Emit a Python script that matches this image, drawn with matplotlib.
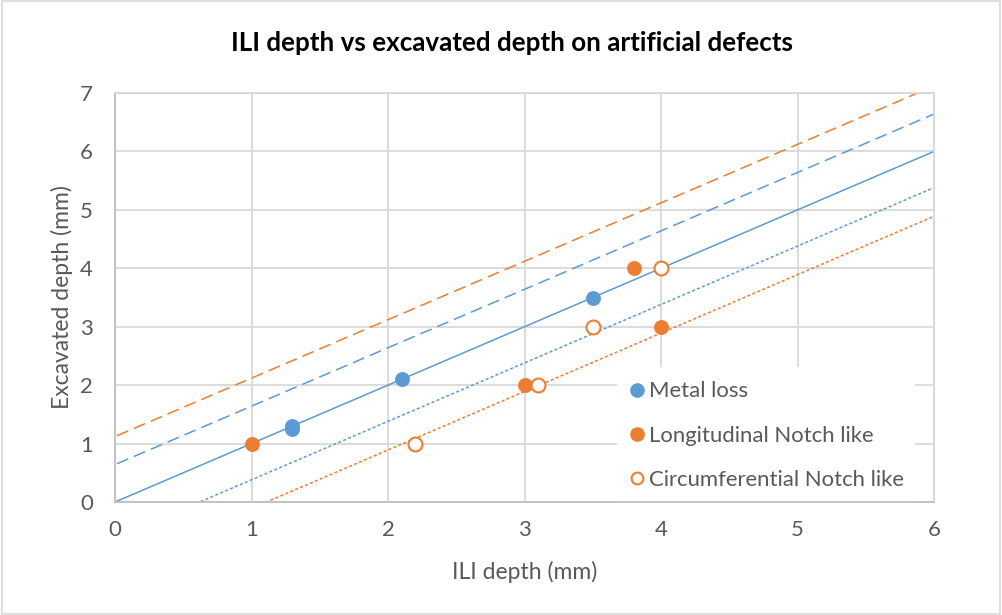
import matplotlib
matplotlib.use("Agg")
import matplotlib.pyplot as plt
import numpy as np
from matplotlib.patches import Rectangle
from matplotlib.lines import Line2D

plt.rcParams['font.family'] = ['Lato', 'DejaVu Sans']

# Data
metal_x = [1.3, 1.3, 2.1, 3.5]
metal_y = [1.3, 1.25, 2.1, 3.5]
long_x = [1.0, 3.0, 3.8, 4.0]
long_y = [1.0, 2.0, 4.0, 3.0]
circ_x = [2.2, 3.1, 3.5, 4.0]
circ_y = [1.0, 2.0, 3.0, 4.0]

# Reference lines y = x + offset
line_offsets = [0.0, 0.64, -0.62, 1.12, -1.11]
line_colors = ['#5B9BD5', '#5B9BD5', '#5B9BD5', '#ED7D31', '#ED7D31']
line_styles = ['-', (0, (8, 4)), (0, (2, 1.5)), (0, (8, 4)), (0, (2, 1.5))]

xticks = [0, 1, 2, 3, 4, 5, 6]
yticks = [0, 1, 2, 3, 4, 5, 6, 7]

BLUE = '#5B9BD5'
ORANGE = '#ED7D31'
GRID = '#D9D9D9'
AXIS = '#BFBFBF'
TXT = '#595959'

fig = plt.figure(figsize=(10.02, 6.15), dpi=100)
ax = fig.add_axes([115/1002, 1 - 502/615, (934-115)/1002, (502-93)/615])

xs = np.linspace(-1, 7, 200)
for off, c, ls in zip(line_offsets, line_colors, line_styles):
    ax.plot(xs, xs + off, color=c, linestyle=ls, linewidth=1.1, zorder=2)

ax.scatter(metal_x, metal_y, s=115, color=BLUE, zorder=3, label='Metal loss', linewidths=0)
ax.scatter(long_x, long_y, s=115, color=ORANGE, zorder=3, label='Longitudinal Notch like', linewidths=0)
ax.scatter(circ_x, circ_y, s=100, facecolor='white', edgecolor=ORANGE, linewidths=1.5,
           zorder=3, label='Circumferential Notch like')

ax.set_xlim(0, 6)
ax.set_ylim(0, 7)
ax.set_xticks(xticks)
ax.set_yticks(yticks)
ax.grid(True, color=GRID, linewidth=1.3, zorder=0)
ax.set_axisbelow(True)
for k, s in ax.spines.items():
    s.set_color(GRID)
    s.set_linewidth(1.3)
ax.spines['left'].set_color(AXIS)
ax.spines['bottom'].set_color(AXIS)
ax.tick_params(axis='x', length=0, labelsize=16, labelcolor=TXT, pad=13)
ax.tick_params(axis='y', length=0, labelsize=16, labelcolor=TXT, pad=16)

ax.set_xlabel('ILI depth (mm)', fontsize=16.5, color=TXT, labelpad=15)
ax.set_ylabel('Excavated depth (mm)', fontsize=16.5, color=TXT, labelpad=5)

fig.text(512/1002, 1 - 43/615, 'ILI depth vs excavated depth on artificial defects',
         ha='center', va='center', fontsize=18.7, fontweight='bold', color='black')

# legend background box
lx0 = (617 - 115) / 819
lx1 = (915 - 115) / 819
ly1 = (502 - 367) / 409
ax.add_patch(Rectangle((lx0, 0), lx1 - lx0, ly1, transform=ax.transAxes,
                       facecolor='white', edgecolor='none', zorder=2.5))

handles = [
    Line2D([], [], marker='o', linestyle='none', markersize=9.5, markerfacecolor=BLUE, markeredgecolor=BLUE),
    Line2D([], [], marker='o', linestyle='none', markersize=9.5, markerfacecolor=ORANGE, markeredgecolor=ORANGE),
    Line2D([], [], marker='o', linestyle='none', markersize=8.5, markerfacecolor='white', markeredgecolor=ORANGE, markeredgewidth=1.5),
]
leg = ax.legend(handles, ['Metal loss', 'Longitudinal Notch like', 'Circumferential Notch like'],
                loc='upper left', bbox_to_anchor=(lx0 + 0.014, ly1 - 0.035), fontsize=15.9, frameon=False,
                labelcolor=TXT, handletextpad=0.15, labelspacing=1.1, borderpad=0.0,
                handlelength=0.8, borderaxespad=0.0)
leg.set_zorder(3)

fig.patches.append(Rectangle((0.0015, 0.002), 0.997, 0.996, transform=fig.transFigure,
                             fill=False, edgecolor=GRID, linewidth=1.2))

fig.savefig('out.png', dpi=100)
